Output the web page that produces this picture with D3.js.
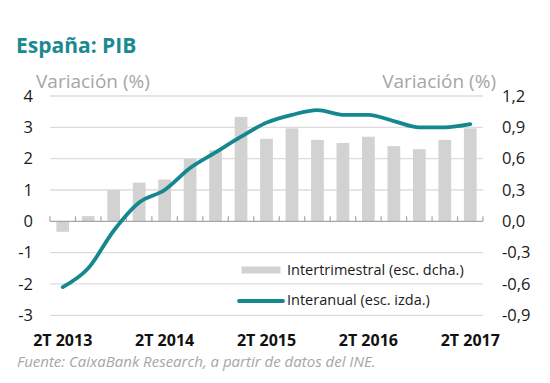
<!DOCTYPE html>
<html>
<head>
<meta charset="utf-8">
<script src="https://cdn.jsdelivr.net/npm/d3@7"></script>
<style>
  html, body { margin: 0; padding: 0; background: #fff; }
  svg { display: block; font-family: "Open Sans", sans-serif; }
</style>
</head>
<body>
<svg id="chart" width="550" height="383"></svg>
<script>
// ---- Data ----
const quarters = ["2T 2013","3T 2013","4T 2013","1T 2014","2T 2014","3T 2014","4T 2014",
                  "1T 2015","2T 2015","3T 2015","4T 2015","1T 2016","2T 2016","3T 2016",
                  "4T 2016","1T 2017","2T 2017"];
// Intertrimestral (%), right scale
const intertrimestral = [-0.1, 0.05, 0.3, 0.37, 0.4, 0.6, 0.68, 1.0, 0.79, 0.89, 0.78, 0.75, 0.81, 0.72, 0.69, 0.78, 0.89];
// Interanual (%), left scale
const interanual = [-2.1, -1.5, -0.3, 0.6, 1.0, 1.7, 2.2, 2.7, 3.15, 3.4, 3.55, 3.4, 3.4, 3.2, 3.0, 3.0, 3.1];
const leftTicks = [4, 3, 2, 1, 0, -1, -2, -3];
const rightTicks = [1.2, 0.9, 0.6, 0.3, 0.0, -0.3, -0.6, -0.9];
const xLabelQuarters = ["2T 2013","2T 2014","2T 2015","2T 2016","2T 2017"];
const title = "España: PIB";
const axisTitle = "Variación (%)";
const legendLabels = ["Intertrimestral (esc. dcha.)", "Interanual (esc. izda.)"];
const source = "Fuente: CaixaBank Research, a partir de datos del INE.";

// ---- Styles ----
const teal = "#14878f";
const barGray = "#d2d2d2";
const gridGray = "#dcdcdc";

const svg = d3.select("#chart");

const x = d3.scaleBand().domain(quarters).range([50, 483]).padding(0);
const yL = d3.scaleLinear().domain([-3, 4]).range([315.3, 96]);
const yR = d3.scaleLinear().domain([-0.9, 1.2]).range([315.3, 96]);

// Title
svg.append("text").attr("x", 16).attr("y", 53)
  .attr("fill", "#1a8a92").attr("font-weight", 700).attr("font-size", 21)
  .text(title);

// Axis titles
svg.append("text").attr("x", 36).attr("y", 88)
  .attr("fill", "#a6a6a6").attr("font-size", 19).text(axisTitle);
svg.append("text").attr("x", 496).attr("y", 88).attr("text-anchor", "end")
  .attr("fill", "#a6a6a6").attr("font-size", 19).text(axisTitle);

// Gridlines
svg.append("g").selectAll("line").data(leftTicks.filter(d => d !== 0)).join("line")
  .attr("x1", 50).attr("x2", 483)
  .attr("y1", d => yL(d)).attr("y2", d => yL(d))
  .attr("stroke", gridGray).attr("stroke-width", 1.3);

// Left axis labels
const leftAxis = d3.axisLeft(yL).tickValues(leftTicks).tickSize(0).tickPadding(0)
  .tickFormat(d => d3.format("d")(d).replace("−", "-"));
const gl = svg.append("g").attr("transform", "translate(33,0)").call(leftAxis);
gl.select(".domain").remove();
gl.selectAll("text").attr("font-size", 16.5).attr("fill", "#1a1a1a")
  .attr("font-family", "'Open Sans', sans-serif");

// Right axis labels
const rightAxis = d3.axisRight(yR).tickValues(rightTicks).tickSize(0).tickPadding(0)
  .tickFormat(d => d3.format(".1f")(d).replace("−", "-").replace(".", ","));
const gr = svg.append("g").attr("transform", "translate(502,0)").call(rightAxis);
gr.select(".domain").remove();
gr.selectAll("text").attr("font-size", 16.5).attr("fill", "#1a1a1a")
  .attr("font-family", "'Open Sans', sans-serif");

// Bars
const bw = x.bandwidth() * 0.5;
svg.append("g").selectAll("rect").data(quarters).join("rect")
  .attr("x", (d) => x(d) + (x.bandwidth() - bw) / 2)
  .attr("width", bw)
  .attr("y", (d, i) => Math.min(yR(intertrimestral[i]), yR(0)))
  .attr("height", (d, i) => Math.abs(yR(intertrimestral[i]) - yR(0)))
  .attr("fill", barGray);

// Zero axis with upward ticks
const y0 = yL(0);
svg.append("line").attr("x1", 50).attr("x2", 483).attr("y1", y0).attr("y2", y0)
  .attr("stroke", "#a6a6a6").attr("stroke-width", 1.3);
const tickPos = quarters.map(q => x(q)).concat([x(quarters[quarters.length - 1]) + x.bandwidth()]);
svg.append("g").selectAll("line").data(tickPos).join("line")
  .attr("x1", d => d).attr("x2", d => d).attr("y1", y0).attr("y2", y0 - 5)
  .attr("stroke", "#a6a6a6").attr("stroke-width", 1.2);

// Line
const line = d3.line()
  .x((d, i) => x(quarters[i]) + x.bandwidth() / 2)
  .y(d => yL(d))
  .curve(d3.curveMonotoneX);
svg.append("path").datum(interanual).attr("d", line)
  .attr("fill", "none").attr("stroke", teal).attr("stroke-width", 3.8)
  .attr("stroke-linejoin", "round").attr("stroke-linecap", "round");

// X labels
svg.append("g").selectAll("text").data(xLabelQuarters).join("text")
  .attr("x", d => x(d) + x.bandwidth() / 2).attr("y", 346)
  .attr("text-anchor", "middle").attr("font-weight", 700).attr("font-size", 16)
  .attr("fill", "#111").text(d => d);

// Legend
const lg = svg.append("g");
lg.append("rect").attr("x", 241.5).attr("y", 266.5).attr("width", 39).attr("height", 7)
  .attr("fill", barGray);
lg.append("text").attr("x", 287).attr("y", 270).attr("dy", "0.35em")
  .attr("font-size", 14.5).attr("fill", "#1a1a1a").text(legendLabels[0]);
lg.append("line").attr("x1", 239).attr("x2", 283).attr("y1", 301).attr("y2", 301)
  .attr("stroke", teal).attr("stroke-width", 3.8).attr("stroke-linecap", "round");
lg.append("text").attr("x", 287).attr("y", 300).attr("dy", "0.35em")
  .attr("font-size", 14.5).attr("fill", "#1a1a1a").text(legendLabels[1]);

// Source
svg.append("text").attr("x", 17).attr("y", 367)
  .attr("font-style", "italic").attr("font-size", 15).attr("fill", "#a6a6a6")
  .text(source);
</script>
</body>
</html>
